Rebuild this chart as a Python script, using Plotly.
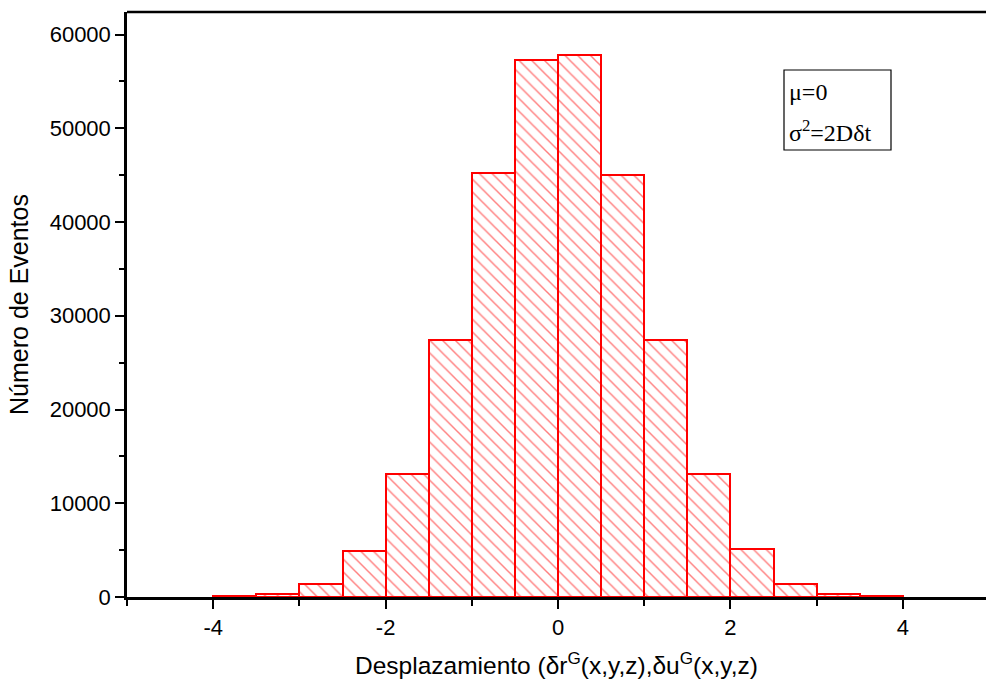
import plotly.graph_objects as go

bin_centers = [-3.75, -3.25, -2.75, -2.25, -1.75, -1.25, -0.75, -0.25,
               0.25, 0.75, 1.25, 1.75, 2.25, 2.75, 3.25, 3.75]
counts = [80, 330, 1400, 4950, 13150, 27400, 45250, 57300,
          57800, 45000, 27450, 13150, 5100, 1400, 320, 80]
bin_width = 0.5

x_tickvals = [-4, -2, 0, 2, 4]
x_ticktext = ["-4", "-2", "0", "2", "4"]
y_tickvals = [0, 10000, 20000, 30000, 40000, 50000, 60000]
y_ticktext = ["0", "10000", "20000", "30000", "40000", "50000", "60000"]

x_title = "Desplazamiento (δr<sup>G</sup>(x,y,z),δu<sup>G</sup>(x,y,z)"
y_title = "Número de Eventos"
legend_lines = ["μ=0", "σ<sup>2</sup>=2Dδt"]

fig = go.Figure()
fig.add_trace(go.Bar(
    x=bin_centers, y=counts, width=bin_width,
    marker=dict(color="white", line=dict(color="red", width=2),
                pattern=dict(shape="\\", fgcolor="red", bgcolor="white",
                             size=9, solidity=0.16)),
    showlegend=False,
))

fig.update_layout(
    width=986, height=685,
    margin=dict(l=127, r=0, t=12, b=88),
    paper_bgcolor="white", plot_bgcolor="white",
    font=dict(family="Liberation Sans, Arial", size=22, color="black"),
    bargap=0,
)
fig.update_xaxes(
    range=[-5, 4.965], tickmode="array", tickvals=x_tickvals, ticktext=x_ticktext,
    ticks="outside", ticklen=9, tickwidth=2, tickcolor="black",
    minor=dict(tickmode="linear", tick0=-5, dtick=1, ticks="outside", ticklen=6, tickwidth=2, tickcolor="black"),
    showline=True, linecolor="black", linewidth=2.5, showgrid=False, zeroline=False,
    tickfont=dict(size=22),
    title=dict(text=x_title, font=dict(size=24.5), standoff=18),
)
fig.update_yaxes(
    range=[0, 62400], tickmode="array", tickvals=y_tickvals, ticktext=y_ticktext,
    ticks="outside", ticklen=9, tickwidth=2, tickcolor="black",
    minor=dict(tickmode="linear", tick0=0, dtick=5000, ticks="outside", ticklen=5, tickwidth=2, tickcolor="black"),
    showline=True, linecolor="black", linewidth=2.5, showgrid=False, zeroline=False,
    tickfont=dict(size=22),
    title=dict(text=y_title, font=dict(size=25), standoff=14),
)
fig.add_shape(type="line", xref="paper", yref="paper", x0=0, x1=1, y0=1, y1=1,
              line=dict(color="black", width=2.5))
# legend-like box
fig.add_shape(type="rect", xref="paper", yref="paper",
              x0=(784 - 127) / 859, x1=(891 - 127) / 859,
              y0=(597 - 150) / 585, y1=(597 - 70) / 585,
              line=dict(color="black", width=1.2), fillcolor="white")
fig.add_annotation(xref="paper", yref="paper", x=(787 - 127) / 859, y=(597 - 92) / 585,
                   xanchor="left", yanchor="middle", text=legend_lines[0], showarrow=False,
                   font=dict(family="Liberation Serif, Times New Roman", size=24, color="black"))
fig.add_annotation(xref="paper", yref="paper", x=(787 - 127) / 859, y=(597 - 131) / 585,
                   xanchor="left", yanchor="middle", text=legend_lines[1], showarrow=False,
                   font=dict(family="Liberation Serif, Times New Roman", size=24, color="black"))
fig.write_html("out.html", config={"displayModeBar": False},
               post_script="document.body.style.margin='0';document.body.style.overflow='hidden';")
